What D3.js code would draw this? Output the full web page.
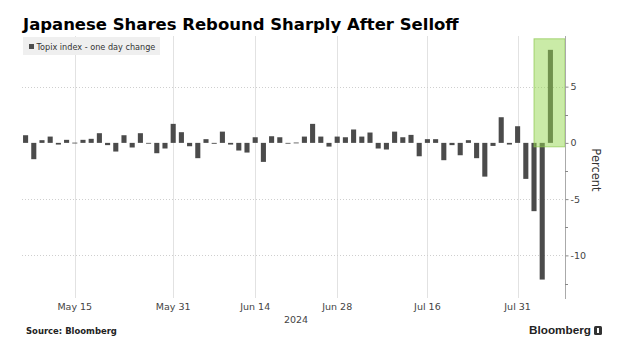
<!DOCTYPE html>
<html><head><meta charset="utf-8">
<script src="https://cdn.jsdelivr.net/npm/d3@7"></script>
<style>body{margin:0;background:#fff}svg{display:block}</style>
</head><body>
<script>
const dates = [
"2024-05-07","2024-05-08","2024-05-09","2024-05-10","2024-05-13","2024-05-14","2024-05-15","2024-05-16","2024-05-17","2024-05-20","2024-05-21","2024-05-22","2024-05-23","2024-05-24","2024-05-27","2024-05-28","2024-05-29","2024-05-30","2024-05-31",
"2024-06-03","2024-06-04","2024-06-05","2024-06-06","2024-06-07","2024-06-10","2024-06-11","2024-06-12","2024-06-13","2024-06-14","2024-06-17","2024-06-18","2024-06-19","2024-06-20","2024-06-21","2024-06-24","2024-06-25","2024-06-26","2024-06-27","2024-06-28",
"2024-07-01","2024-07-02","2024-07-03","2024-07-04","2024-07-05","2024-07-08","2024-07-09","2024-07-10","2024-07-11","2024-07-12","2024-07-16","2024-07-17","2024-07-18","2024-07-19","2024-07-22","2024-07-23","2024-07-24","2024-07-25","2024-07-26","2024-07-29","2024-07-30","2024-07-31",
"2024-08-01","2024-08-02","2024-08-05","2024-08-06"];
const values = [
0.68,-1.45,0.24,0.56,-0.15,0.27,0.02,0.27,0.36,0.86,-0.2,-0.77,0.68,-0.41,0.86,-0.05,-0.92,-0.5,1.69,
0.95,-0.3,-1.36,0.33,-0.08,1.0,-0.15,-0.68,-0.86,0.5,-1.69,0.59,0.5,-0.05,0.03,0.56,1.69,0.56,-0.33,0.56,
0.5,1.19,0.56,0.92,-0.5,-0.59,1.0,0.5,0.71,-1.19,0.33,0.33,-1.54,-0.2,-1.1,0.24,-1.36,-3.0,-0.27,2.28,-0.15,1.48,
-3.2,-6.07,-12.15,8.27];
const xTickDates = ["2024-05-15","2024-05-31","2024-06-14","2024-06-28","2024-07-16","2024-07-31"];
const xTickLabels = ["May 15","May 31","Jun 14","Jun 28","Jul 16","Jul 31"];
const yMajorTicks = [5,0,-5,-10];
const yMinorTicks = [2.5,-2.5,-7.5,-12.5];
const yGridTicks = [5,-5,-10];
const highlightDates = ["2024-08-02","2024-08-06"];
const highlightRange = [-0.35, 9.25];
const seriesName = "Topix index - one day change";

const W=617,H=350;
const svg=d3.select("body").append("svg").attr("width",W).attr("height",H);
const F="'DejaVu Sans', Verdana, sans-serif";
const FA="'Liberation Sans', Arial, sans-serif";
function fit(sel,base,target){const w=sel.node().getComputedTextLength();sel.attr("font-size",base*target/w);}

const x=d3.scaleBand().domain(dates).range([20.5,555.5]).paddingInner(0.38).paddingOuter(0.31);
const y=d3.scaleLinear().domain([-13.7,9.5]).range([297,36]);
const axisX=565;
const cx=d=>x(d)+x.bandwidth()/2;

// title
const title=svg.append("text").attr("x",23).attr("y",30).attr("font-family",F).attr("font-weight","bold")
  .attr("font-size",18).attr("fill","#000").text("Japanese Shares Rebound Sharply After Selloff");
fit(title,18,436);

// vertical grid
svg.append("g").selectAll("line").data(xTickDates).join("line")
  .attr("x1",d=>Math.round(cx(d))+0.5).attr("x2",d=>Math.round(cx(d))+0.5)
  .attr("y1",36).attr("y2",298).attr("stroke","#e2e2e2").attr("stroke-width",1);
// horizontal grid
svg.append("g").selectAll("line").data(yGridTicks).join("line")
  .attr("x1",22).attr("x2",axisX).attr("y1",d=>Math.round(y(d))+0.5).attr("y2",d=>Math.round(y(d))+0.5)
  .attr("stroke","#cfcfcf").attr("stroke-dasharray","1,2");

// legend
svg.append("rect").attr("x",23).attr("y",37).attr("width",137).attr("height",18).attr("fill","#efefef");
svg.append("rect").attr("x",29).attr("y",44).attr("width",5).attr("height",5).attr("fill","#4d4d4d");
const lg=svg.append("text").attr("x",36.5).attr("y",50).attr("font-family",F).attr("font-size",8).attr("fill","#333").text(seriesName);
fit(lg,8,119);

// bars
svg.append("g").selectAll("rect").data(dates.map((d,i)=>({d,v:values[i]}))).join("rect")
  .attr("x",p=>x(p.d)).attr("width",x.bandwidth())
  .attr("y",p=>y(Math.max(0,p.v))).attr("height",p=>Math.max(0.8,Math.abs(y(p.v)-y(0))))
  .attr("fill","#4b4b4b");

// highlight box
const hx0=cx(highlightDates[0]);
svg.append("rect").attr("x",hx0).attr("y",y(highlightRange[1]))
  .attr("width",axisX-hx0).attr("height",y(highlightRange[0])-y(highlightRange[1]))
  .attr("fill","rgb(150,215,80)").attr("fill-opacity",0.5)
  .attr("stroke","rgb(140,200,80)").attr("stroke-opacity",0.7).attr("stroke-width",1);

// right axis
svg.append("line").attr("x1",axisX+0.5).attr("x2",axisX+0.5).attr("y1",36).attr("y2",299).attr("stroke","#aaa");
const yAxis=d3.axisRight(y).tickValues(yMajorTicks).tickSize(3).tickFormat(d=>d<0?"-"+Math.abs(d):d);
const ga=svg.append("g").attr("transform",`translate(${axisX+0.5},0)`).call(yAxis);
ga.select(".domain").remove();
ga.selectAll("line").attr("stroke","#888");
ga.selectAll("text").attr("font-family",F).attr("font-size",9.5).attr("fill","#444").attr("x",5);
svg.append("g").selectAll("line").data(yMinorTicks).join("line")
  .attr("x1",axisX).attr("x2",axisX+3).attr("y1",d=>Math.round(y(d))+0.5).attr("y2",d=>Math.round(y(d))+0.5).attr("stroke","#888");
svg.append("text").attr("transform",`translate(592,170) rotate(90)`).attr("text-anchor","middle")
  .attr("font-family",F).attr("font-size",11.5).attr("fill","#333").text("Percent");

// x labels
svg.append("g").selectAll("text").data(xTickDates).join("text")
  .attr("x",d=>cx(d)).attr("y",310).attr("text-anchor","middle").attr("font-family",F)
  .attr("font-size",9.5).attr("fill","#444").text((d,i)=>xTickLabels[i]);
svg.append("text").attr("x",296).attr("y",323).attr("text-anchor","middle").attr("font-family",F)
  .attr("font-size",9.5).attr("fill","#444").text("2024");

// footer
const src=svg.append("text").attr("x",26).attr("y",334).attr("font-family",F).attr("font-weight","bold")
  .attr("font-size",8.5).attr("fill","#222").text("Source: Bloomberg");
fit(src,8.5,91);
const bb=svg.append("text").attr("x",529).attr("y",334).attr("font-family",FA).attr("font-weight","bold")
  .attr("font-size",12).attr("fill","#222").text("Bloomberg");
fit(bb,12,62);
svg.append("rect").attr("x",594).attr("y",326).attr("width",8).attr("height",9).attr("rx",1.5).attr("fill","#333");
svg.append("rect").attr("x",597).attr("y",328).attr("width",2).attr("height",5).attr("fill","#fff");
</script>
</body></html>
